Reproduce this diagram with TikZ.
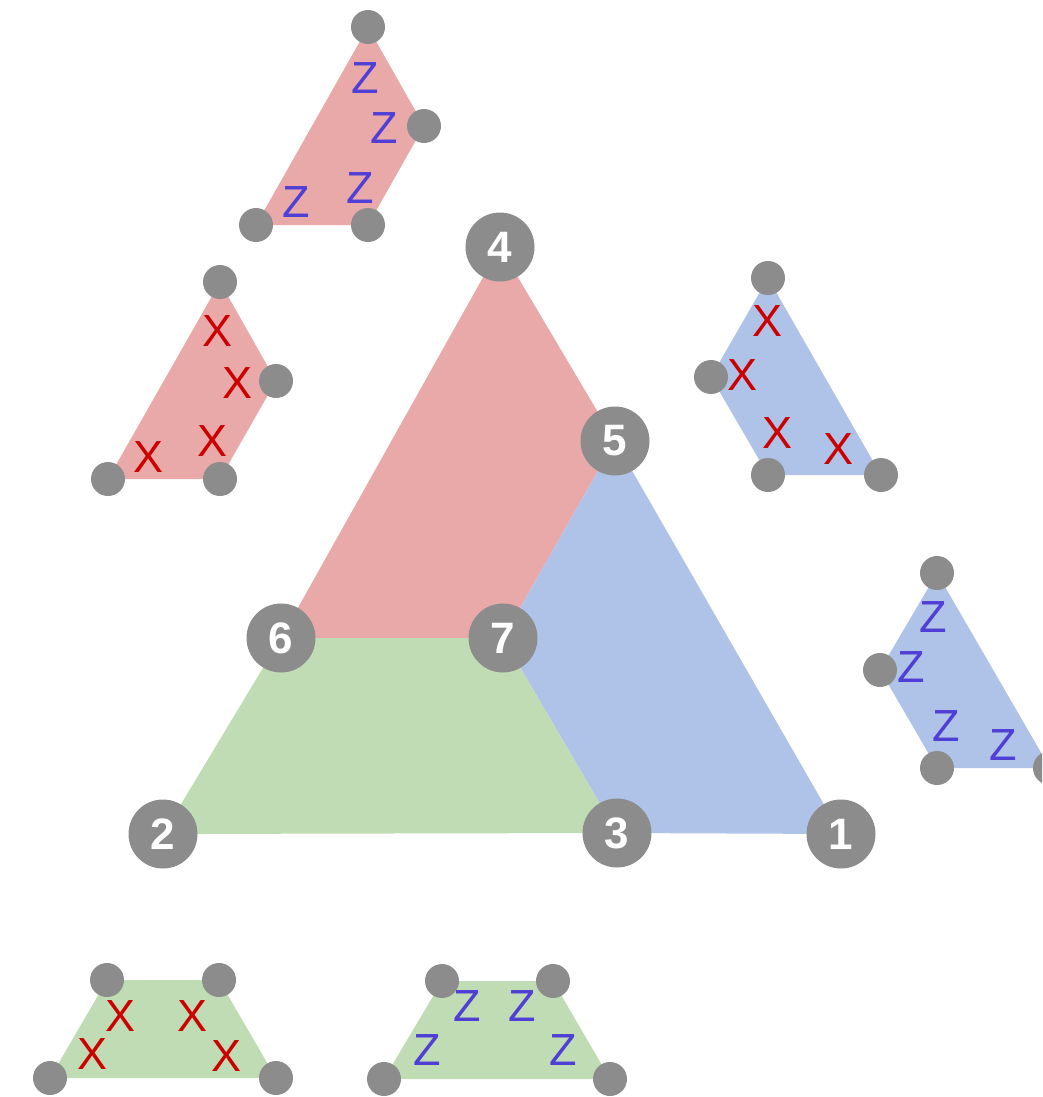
\documentclass[tikz,border=0pt]{standalone}
\usepackage{fontspec}
\setmainfont{Liberation Sans}
\definecolor{redf}{HTML}{EAA9A9}
\definecolor{bluef}{HTML}{AFC3E8}
\definecolor{greenf}{HTML}{C0DCB4}
\definecolor{dotc}{HTML}{8C8C8C}
\definecolor{xcol}{HTML}{CC0000}
\definecolor{zcol}{HTML}{4F3FD4}
\tikzset{
  bigdot/.style={circle,fill=dotc,minimum size=69pt,inner sep=0pt,text=white,font=\fontsize{44}{44}\selectfont\bfseries},
  smalldot/.style={circle,fill=dotc,minimum size=34pt,inner sep=0pt},
  xlab/.style={text=xcol,font=\fontsize{45}{45}\selectfont,inner sep=0pt},
  zlab/.style={text=zcol,font=\fontsize{45}{45}\selectfont,inner sep=0pt},
}
\begin{document}
\begin{tikzpicture}[x=1pt,y=-1pt]
\useasboundingbox (0,0) rectangle (1042,1097);
\clip (0,0) rectangle (1042,1097);
% main triangle coordinates
\coordinate (c4) at (500,247);
\coordinate (c5) at (615,441);
\coordinate (c6) at (281,638);
\coordinate (c7) at (503,638);
\coordinate (c2) at (163,834);
\coordinate (c3) at (617,833);
\coordinate (c1) at (841,834);
\fill[redf] (c4)--(c5)--(c7)--(c6)--cycle;
\fill[bluef] (c5)--(c1)--(c3)--(c7)--cycle;
\fill[greenf] (c6)--(c7)--(c3)--(c2)--cycle;
% top red Z piece
\coordinate (a1) at (368,27);
\coordinate (a2) at (424,126);
\coordinate (a3) at (368,225);
\coordinate (a4) at (256,225);
\fill[redf] (a1)--(a2)--(a3)--(a4)--cycle;
% red X piece
\coordinate (b1) at (220,282);
\coordinate (b2) at (276,381);
\coordinate (b3) at (220,479);
\coordinate (b4) at (108,479);
\fill[redf] (b1)--(b2)--(b3)--(b4)--cycle;
% blue X piece
\coordinate (d1) at (768,278);
\coordinate (d2) at (711,377);
\coordinate (d3) at (768,475);
\coordinate (d4) at (881,475);
\fill[bluef] (d1)--(d2)--(d3)--(d4)--cycle;
% blue Z piece
\coordinate (e1) at (937,573);
\coordinate (e2) at (880,670);
\coordinate (e3) at (937,768);
\coordinate (e4) at (1050,768);
\fill[bluef] (e1)--(e2)--(e3)--(e4)--cycle;
% green X piece
\coordinate (f1) at (107,980);
\coordinate (f2) at (219,980);
\coordinate (f3) at (276,1078);
\coordinate (f4) at (50,1078);
\fill[greenf] (f1)--(f2)--(f3)--(f4)--cycle;
% green Z piece
\coordinate (g1) at (442,981);
\coordinate (g2) at (553,981);
\coordinate (g3) at (610,1079);
\coordinate (g4) at (384,1079);
\fill[greenf] (g1)--(g2)--(g3)--(g4)--cycle;
% small dots
\foreach \p in {a1,a2,a3,a4,b1,b2,b3,b4,d1,d2,d3,d4,e1,e2,e3,e4,f1,f2,f3,f4,g1,g2,g3,g4}
  \node[smalldot] (n\p) at (\p) {};
% big numbered dots
\node[bigdot] (n1) at (c1) {1};
\node[bigdot] (n2) at (c2) {2};
\node[bigdot] (n3) at (c3) {3};
\node[bigdot] (n4) at (c4) {4};
\node[bigdot] (n5) at (c5) {5};
\node[bigdot] (n6) at (c6) {6};
\node[bigdot] (n7) at (c7) {7};
% labels
\node[zlab] (za1) at (365,78) {Z};
\node[zlab] (za2) at (384,128) {Z};
\node[zlab] (za3) at (360,188) {Z};
\node[zlab] (za4) at (296,202) {Z};
\node[xlab] (xb1) at (218,331) {X};
\node[xlab] (xb2) at (238,383) {X};
\node[xlab] (xb3) at (213,441) {X};
\node[xlab] (xb4) at (149,457) {X};
\node[xlab] (xd1) at (767,321) {X};
\node[xlab] (xd2) at (742,375) {X};
\node[xlab] (xd3) at (777,433) {X};
\node[xlab] (xd4) at (838,449) {X};
\node[zlab] (ze1) at (933,617) {Z};
\node[zlab] (ze2) at (911,667) {Z};
\node[zlab] (ze3) at (946,726) {Z};
\node[zlab] (ze4) at (1003,745) {Z};
\node[xlab] (xf1) at (121,1016) {X};
\node[xlab] (xf2) at (193,1016) {X};
\node[xlab] (xf3) at (93,1054) {X};
\node[xlab] (xf4) at (227,1056) {X};
\node[zlab] (zg1) at (467,1006) {Z};
\node[zlab] (zg2) at (522,1006) {Z};
\node[zlab] (zg3) at (427,1050) {Z};
\node[zlab] (zg4) at (563,1050) {Z};
\end{tikzpicture}
\end{document}
